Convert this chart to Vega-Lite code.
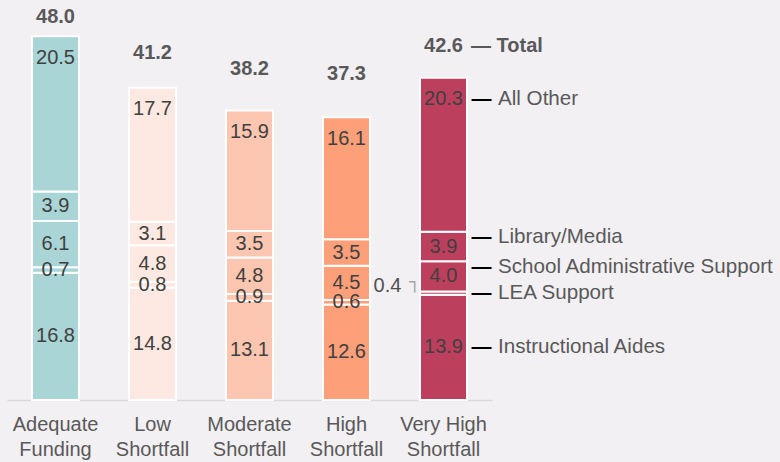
{
  "$schema": "https://vega.github.io/schema/vega-lite/v6.json",
  "width": 485,
  "height": 400,
  "autosize": {"type": "none"},
  "padding": {"left": 7, "top": 0, "right": 288, "bottom": 62},
  "background": "#f2f0f3",
  "config": {
    "view": {"stroke": null},
    "font": "Liberation Sans",
    "text": {"font": "Liberation Sans", "fontSize": 20, "baseline": "middle"},
    "axisX": {
      "domainColor": "#d9d9d9",
      "domainWidth": 1.5,
      "ticks": false,
      "grid": false,
      "labelFont": "Liberation Sans",
      "labelFontSize": 20,
      "labelColor": "#595959",
      "labelPadding": 14,
      "labelLineHeight": 25,
      "labelAngle": 0,
      "title": null,
      "labelExpr": "datum.label == 'Very High Shortfall' ? ['Very High', 'Shortfall'] : split(datum.label, ' ')"
    }
  },
  "datasets": {
    "segs": [
      {"cat": "Adequate Funding", "seg": "Instructional Aides", "order": 1, "value": 16.8},
      {"cat": "Adequate Funding", "seg": "LEA Support", "order": 2, "value": 0.7},
      {"cat": "Adequate Funding", "seg": "School Administrative Support", "order": 3, "value": 6.1},
      {"cat": "Adequate Funding", "seg": "Library/Media", "order": 4, "value": 3.9},
      {"cat": "Adequate Funding", "seg": "All Other", "order": 5, "value": 20.5},
      {"cat": "Low Shortfall", "seg": "Instructional Aides", "order": 1, "value": 14.8},
      {"cat": "Low Shortfall", "seg": "LEA Support", "order": 2, "value": 0.8},
      {"cat": "Low Shortfall", "seg": "School Administrative Support", "order": 3, "value": 4.8},
      {"cat": "Low Shortfall", "seg": "Library/Media", "order": 4, "value": 3.1},
      {"cat": "Low Shortfall", "seg": "All Other", "order": 5, "value": 17.7},
      {"cat": "Moderate Shortfall", "seg": "Instructional Aides", "order": 1, "value": 13.1},
      {"cat": "Moderate Shortfall", "seg": "LEA Support", "order": 2, "value": 0.9},
      {"cat": "Moderate Shortfall", "seg": "School Administrative Support", "order": 3, "value": 4.8},
      {"cat": "Moderate Shortfall", "seg": "Library/Media", "order": 4, "value": 3.5},
      {"cat": "Moderate Shortfall", "seg": "All Other", "order": 5, "value": 15.9},
      {"cat": "High Shortfall", "seg": "Instructional Aides", "order": 1, "value": 12.6},
      {"cat": "High Shortfall", "seg": "LEA Support", "order": 2, "value": 0.6},
      {"cat": "High Shortfall", "seg": "School Administrative Support", "order": 3, "value": 4.5},
      {"cat": "High Shortfall", "seg": "Library/Media", "order": 4, "value": 3.5},
      {"cat": "High Shortfall", "seg": "All Other", "order": 5, "value": 16.1},
      {"cat": "Very High Shortfall", "seg": "Instructional Aides", "order": 1, "value": 13.9},
      {"cat": "Very High Shortfall", "seg": "LEA Support", "order": 2, "value": 0.4},
      {"cat": "Very High Shortfall", "seg": "School Administrative Support", "order": 3, "value": 4.0},
      {"cat": "Very High Shortfall", "seg": "Library/Media", "order": 4, "value": 3.9},
      {"cat": "Very High Shortfall", "seg": "All Other", "order": 5, "value": 20.3}
    ],
    "totals": [
      {"cat": "Adequate Funding", "total": 48.0},
      {"cat": "Low Shortfall", "total": 41.2},
      {"cat": "Moderate Shortfall", "total": 38.2},
      {"cat": "High Shortfall", "total": 37.3},
      {"cat": "Very High Shortfall", "total": 42.6}
    ]
  },
  "resolve": {"scale": {"y": "independent"}},
  "layer": [
    {
      "data": {"name": "segs"},
      "transform": [
        {"stack": "value", "groupby": ["cat"], "sort": [{"field": "order", "order": "ascending"}], "as": ["v0", "v1"]}
      ],
      "mark": {"type": "bar", "stroke": "white", "strokeWidth": 2},
      "encoding": {
        "x": {
          "field": "cat", "type": "nominal",
          "sort": ["Adequate Funding", "Low Shortfall", "Moderate Shortfall", "High Shortfall", "Very High Shortfall"],
          "scale": {"paddingInner": 0.515, "paddingOuter": 0.2575}
        },
        "y": {"field": "v1", "type": "quantitative", "scale": {"domain": [0, 52.77], "nice": false, "zero": false}, "axis": null},
        "y2": {"field": "v0"},
        "color": {
          "field": "cat", "type": "nominal", "legend": null,
          "scale": {
            "domain": ["Adequate Funding", "Low Shortfall", "Moderate Shortfall", "High Shortfall", "Very High Shortfall"],
            "range": ["#a9d5d6", "#fde9e1", "#fdc6b1", "#fd9f79", "#bd3f5e"]
          }
        }
      }
    },
    {
      "data": {"name": "segs"},
      "transform": [
        {"stack": "value", "groupby": ["cat"], "sort": [{"field": "order", "order": "ascending"}], "as": ["v0", "v1"]},
        {"calculate": "(datum.v0 + datum.v1) / 2", "as": "mid"},
        {"filter": "datum.seg != 'All Other' && !(datum.cat == 'Very High Shortfall' && datum.seg == 'LEA Support')"}
      ],
      "mark": {"type": "text", "color": "#404040"},
      "encoding": {
        "x": {"field": "cat", "type": "nominal", "sort": ["Adequate Funding", "Low Shortfall", "Moderate Shortfall", "High Shortfall", "Very High Shortfall"]},
        "y": {"field": "mid", "type": "quantitative", "scale": {"domain": [0, 52.77], "nice": false, "zero": false}, "axis": null},
        "text": {"field": "value", "type": "quantitative", "format": ".1f"}
      }
    },
    {
      "data": {"name": "segs"},
      "transform": [
        {"stack": "value", "groupby": ["cat"], "sort": [{"field": "order", "order": "ascending"}], "as": ["v0", "v1"]},
        {"filter": "datum.seg == 'All Other'"}
      ],
      "mark": {"type": "text", "color": "#404040", "dy": 21.5},
      "encoding": {
        "x": {"field": "cat", "type": "nominal", "sort": ["Adequate Funding", "Low Shortfall", "Moderate Shortfall", "High Shortfall", "Very High Shortfall"]},
        "y": {"field": "v1", "type": "quantitative", "scale": {"domain": [0, 52.77], "nice": false, "zero": false}, "axis": null},
        "text": {"field": "value", "type": "quantitative", "format": ".1f"}
      }
    },
    {
      "data": {"name": "segs"},
      "transform": [
        {"stack": "value", "groupby": ["cat"], "sort": [{"field": "order", "order": "ascending"}], "as": ["v0", "v1"]},
        {"calculate": "(datum.v0 + datum.v1) / 2", "as": "mid"},
        {"filter": "datum.cat == 'Very High Shortfall' && datum.seg == 'LEA Support'"}
      ],
      "layer": [
        {
          "mark": {"type": "text", "color": "#505050", "dx": -56, "dy": -7.5},
          "encoding": {"text": {"field": "value", "type": "quantitative", "format": ".1f"}}
        },
        {
          "mark": {"type": "text", "color": "#a6a6a6", "font": "DejaVu Sans Mono", "fontSize": 18, "baseline": "alphabetic", "align": "right", "dx": -23.5, "dy": -5},
          "encoding": {"text": {"value": "┐"}}
        }
      ],
      "encoding": {
        "x": {"field": "cat", "type": "nominal", "sort": ["Adequate Funding", "Low Shortfall", "Moderate Shortfall", "High Shortfall", "Very High Shortfall"]},
        "y": {"field": "mid", "type": "quantitative", "scale": {"domain": [0, 52.77], "nice": false, "zero": false}, "axis": null}
      }
    },
    {
      "data": {"name": "segs"},
      "transform": [
        {"stack": "value", "groupby": ["cat"], "sort": [{"field": "order", "order": "ascending"}], "as": ["v0", "v1"]},
        {"calculate": "(datum.v0 + datum.v1) / 2", "as": "mid"},
        {"filter": "datum.cat == 'Very High Shortfall' && (datum.seg == 'Instructional Aides' || datum.seg == 'LEA Support')"}
      ],
      "layer": [
        {"mark": {"type": "text", "color": "#595959", "fontSize": 20.6, "align": "left", "dx": 54.5}, "encoding": {"text": {"field": "seg"}}},
        {"mark": {"type": "text", "color": "#000000", "fontWeight": "bold", "align": "center", "dx": 38}, "encoding": {"text": {"value": "—"}}}
      ],
      "encoding": {
        "x": {"field": "cat", "type": "nominal", "sort": ["Adequate Funding", "Low Shortfall", "Moderate Shortfall", "High Shortfall", "Very High Shortfall"]},
        "y": {"field": "mid", "type": "quantitative", "scale": {"domain": [0, 52.77], "nice": false, "zero": false}, "axis": null}
      }
    },
    {
      "data": {"name": "segs"},
      "transform": [
        {"stack": "value", "groupby": ["cat"], "sort": [{"field": "order", "order": "ascending"}], "as": ["v0", "v1"]},
        {"calculate": "(datum.v0 + datum.v1) / 2", "as": "mid"},
        {"filter": "datum.cat == 'Very High Shortfall' && (datum.seg == 'Library/Media' || datum.seg == 'School Administrative Support')"}
      ],
      "layer": [
        {"mark": {"type": "text", "color": "#595959", "fontSize": 20.6, "align": "left", "dx": 54.5, "dy": -9.5}, "encoding": {"text": {"field": "seg"}}},
        {"mark": {"type": "text", "color": "#000000", "fontWeight": "bold", "align": "center", "dx": 38, "dy": -9.5}, "encoding": {"text": {"value": "—"}}}
      ],
      "encoding": {
        "x": {"field": "cat", "type": "nominal", "sort": ["Adequate Funding", "Low Shortfall", "Moderate Shortfall", "High Shortfall", "Very High Shortfall"]},
        "y": {"field": "mid", "type": "quantitative", "scale": {"domain": [0, 52.77], "nice": false, "zero": false}, "axis": null}
      }
    },
    {
      "data": {"name": "segs"},
      "transform": [
        {"stack": "value", "groupby": ["cat"], "sort": [{"field": "order", "order": "ascending"}], "as": ["v0", "v1"]},
        {"filter": "datum.cat == 'Very High Shortfall' && datum.seg == 'All Other'"}
      ],
      "layer": [
        {"mark": {"type": "text", "color": "#595959", "fontSize": 20.6, "align": "left", "dx": 54.5, "dy": 21.5}, "encoding": {"text": {"field": "seg"}}},
        {"mark": {"type": "text", "color": "#000000", "fontWeight": "bold", "align": "center", "dx": 38, "dy": 21.5}, "encoding": {"text": {"value": "—"}}}
      ],
      "encoding": {
        "x": {"field": "cat", "type": "nominal", "sort": ["Adequate Funding", "Low Shortfall", "Moderate Shortfall", "High Shortfall", "Very High Shortfall"]},
        "y": {"field": "v1", "type": "quantitative", "scale": {"domain": [0, 52.77], "nice": false, "zero": false}, "axis": null}
      }
    },
    {
      "data": {"name": "totals"},
      "layer": [
        {"mark": {"type": "text", "color": "#595959", "fontWeight": "bold"}, "encoding": {"text": {"field": "total", "type": "quantitative", "format": ".1f"}}},
        {
          "transform": [{"filter": "datum.cat == 'Very High Shortfall'"}],
          "mark": {"type": "text", "color": "#595959", "fontWeight": "bold", "align": "left", "dx": 27.5},
          "encoding": {"text": {"value": "— Total"}}
        }
      ],
      "encoding": {
        "x": {"field": "cat", "type": "nominal", "sort": ["Adequate Funding", "Low Shortfall", "Moderate Shortfall", "High Shortfall", "Very High Shortfall"]},
        "y": {"field": "total", "type": "quantitative", "scale": {"domain": [-24.26, 51.2], "nice": false, "zero": false}, "axis": null}
      }
    }
  ]
}
